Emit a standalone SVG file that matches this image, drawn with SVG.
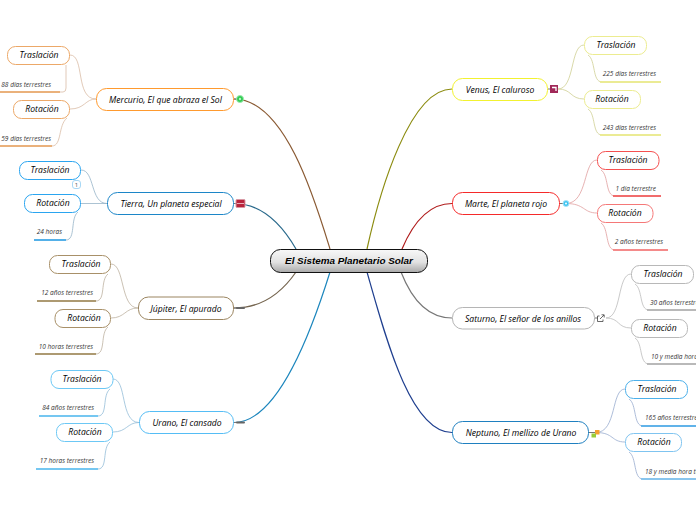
<svg xmlns="http://www.w3.org/2000/svg" width="696" height="520" viewBox="0 0 696 520">
<style>
text{font-family:"Open Sans","Noto Sans",sans-serif;font-style:italic;text-anchor:middle;fill:#000}
.m{font-size:8.600px;font-weight:500}
.s{font-size:8.600px;font-weight:500}
.n{font-size:6.500px;fill:#333;text-anchor:end}
.nl{font-size:6.500px;fill:#333;text-anchor:start}
rect{fill:#fff;stroke-width:1}
.c path{fill:none}
.a{stroke-width:1.200}
.b{stroke-width:.8;opacity:.65}
.u{stroke-width:1.400}
</style>
<defs>
<linearGradient id="g" x1="0" y1="0" x2="0" y2="1"><stop offset="0" stop-color="#f8f8f8"/><stop offset=".55" stop-color="#e2e2e2"/><stop offset="1" stop-color="#a8a8a8"/></linearGradient>
</defs>
<g id="connectors" class="c">
<path class="a" stroke="#8a5a33" d="M234 99C285 99 315 200 330 249"/>
<path class="a" stroke="#2a6a8c" d="M234 203.500C265 203.500 285 230 296 249"/>
<path class="a" stroke="#75654f" d="M234 308C265 308 285 288 296 272"/>
<path class="a" stroke="#1c86bd" d="M234 422.500C280 422.500 315 320 330 272"/>
<path class="a" stroke="#8c8c10" d="M452 89C410 89 380 190 367 249"/>
<path class="a" stroke="#b01c1c" d="M452 203.500C425 203.500 410 230 402 249"/>
<path class="a" stroke="#777" d="M452 318C425 318 410 295 401 272"/>
<path class="a" stroke="#1f3f8f" d="M452 432.500C410 432.500 385 335 367 272"/>
<g stroke="#c89a78" class="b"><path d="M96 99C75 99 85 55 70 55"/><path d="M96 99C85 99 85 109 70 109"/><path d="M0 92H63Q66 92 66 88V65"/><path d="M0 146H52C62 146 58 125 67 118"/></g>
<path class="u" stroke="#e8a05c" d="M0 92H60M0 146H52"/>
<g stroke="#5f8dac" class="b"><path d="M107 203.500C90 203.500 95 170 81 170"/><path d="M107 203.500H81"/><path d="M34 240H66C76 240 70 218 78 212"/></g>
<path class="u" stroke="#1e9be8" d="M34 240H66"/>
<g stroke="#9c8a70" class="b"><path d="M138 308C120 308 125 264 111 264"/><path d="M138 308C125 308 125 318 111 318"/><path d="M37 301H96C106 301 100 280 108 274"/><path d="M35 354H96C106 354 100 333 108 327"/></g>
<path class="u" stroke="#9b8350" d="M37 301H96M35 354H96"/>
<g stroke="#5d9cc5" class="b"><path d="M139 422.500C120 422.500 127 379 113 379"/><path d="M139 422.500C127 422.500 127 432 113 432"/><path d="M39 416H98C108 416 102 395 110 389"/><path d="M36 469H98C108 469 102 448 110 442"/></g>
<path class="u" stroke="#55bdf2" d="M39 416H98M36 469H98"/>
<g stroke="#b8b85c" class="b"><path d="M558 89C575 89 570 45 584 45"/><path d="M558 89C572 89 570 99 584 99"/><path d="M588 55C596 60 592 82 602 82H661"/><path d="M588 109C596 114 592 135 602 135H661"/></g>
<path class="u" stroke="#eaea80" d="M600 82H661M600 135H661"/>
<g stroke="#d26d6d" class="b"><path d="M566 203.500C588 203.500 583 160 597 160"/><path d="M566 203.500C585 203.500 583 213 597 213"/><path d="M601 170C609 175 605 196 615 196H661"/><path d="M601 223C609 228 605 250 615 250H668"/></g>
<path class="u" stroke="#f04848" d="M613 196H661"/><path class="u" stroke="#f57070" d="M613 250H668"/>
<g stroke="#999" class="b"><path d="M606 318C622 318 617 274 631 274"/><path d="M606 318C620 318 617 328 631 328"/><path d="M635 284C643 289 639 310 649 310H696"/><path d="M635 338C643 343 639 364 649 364H696"/></g>
<path class="u" stroke="#aaa" d="M647 310H696M647 364H696"/>
<g stroke="#6382b8" class="b"><path d="M596 432.500C617 432.500 611 389 625 389"/><path d="M596 432.500C614 432.500 611 442 625 442"/><path d="M629 399C637 404 633 426 643 426H696"/><path d="M629 452C637 457 633 479 643 479H696"/></g>
<path class="u" stroke="#3aa5e8" d="M641 426H696"/><path class="u" stroke="#6fbdee" d="M641 479H696"/>
<path stroke="#777" stroke-width="1" d="M234 99H238M234 203.500H236M234 308H238M234 422.500H238M548 89H551M560 203.500H563M595 318H598M589 432.500H596"/>
</g>
<g id="central"><rect x="270.500" y="249.500" width="157" height="23" rx="10" stroke="#111" style="fill:url(#g)"/><text x="349" y="264" style="font-family:'Liberation Sans',Arial,sans-serif;font-size:9.900px;font-weight:700">El Sistema Planetario Solar</text></g>
<g id="mercurio"><rect x="96.500" y="88.500" width="137" height="22" rx="10" stroke="#ff9a2e"/><text class="m" x="165.500" y="102.500">Mercurio, El que abraza el Sol</text>
<circle cx="240" cy="99" r="3.500" fill="#2ecc50" stroke="#9fe8b0"/><circle cx="240" cy="99" r="1.200" fill="#b5f0c5"/></g>
<g id="m1"><rect x="7.500" y="46.500" width="62" height="18" rx="8" stroke="#eca868"/><text class="s" x="39" y="58">Traslación</text></g>
<g id="m1n"><text class="n" x="51" y="86.500">88 días terrestres</text></g>
<g id="m2"><rect x="13.500" y="100.500" width="56" height="18" rx="8" stroke="#eca868"/><text class="s" x="42" y="112">Rotación</text></g>
<g id="m2n"><text class="n" x="51" y="140.500">59 días terrestres</text></g>
<g id="tierra"><rect x="107.500" y="192.500" width="126" height="22" rx="10" stroke="#1c86c8"/><text class="m" x="171" y="207">Tierra, Un planeta especial</text>
<rect x="236" y="199.500" width="9" height="8" rx="1" style="fill:#b8243c;stroke:#d89aa5"/><path d="M237 203.500H244" stroke="#e8b0ba" stroke-width="1"/></g>
<g id="t1"><rect x="19.500" y="161.500" width="61" height="18" rx="8" stroke="#2aa5f0"/><text class="s" x="50" y="173">Traslación</text>
<rect x="72.500" y="180.500" width="8" height="8" rx="2.500" stroke="#a8d8f5"/><text x="76.500" y="187" style="font-size:6px;font-style:normal;fill:#555">1</text></g>
<g id="t2"><rect x="24.500" y="194.500" width="56" height="18" rx="8" stroke="#2aa5f0"/><text class="s" x="53" y="206">Rotación</text></g>
<g id="t2n"><text class="n" x="62" y="234">24 horas</text></g>
<g id="jupiter"><rect x="138.500" y="297" width="95" height="22.500" rx="10" stroke="#9b8560"/><text class="m" x="186" y="311.500">Júpiter, El apurado</text>
<rect x="236" y="307" width="9" height="2" rx="1" style="fill:#666;stroke:none"/></g>
<g id="j1"><rect x="49.500" y="255.500" width="61" height="18" rx="8" stroke="#a89068"/><text class="s" x="81" y="267">Traslación</text></g>
<g id="j1n"><text class="n" x="93" y="295">12 años terrestres</text></g>
<g id="j2"><rect x="55" y="309.500" width="55.500" height="18" rx="8" stroke="#a89068"/><text class="s" x="84" y="321">Rotación</text></g>
<g id="j2n"><text class="n" x="93" y="349">10 horas terrestres</text></g>
<g id="urano"><rect x="139.500" y="411.500" width="94" height="22" rx="10" stroke="#55bdf5"/><text class="m" x="187" y="426">Urano, El cansado</text>
<rect x="236" y="421.500" width="9" height="2" rx="1" style="fill:#666;stroke:none"/></g>
<g id="u1"><rect x="51" y="370.500" width="62" height="18" rx="8" stroke="#6cc8f5"/><text class="s" x="82" y="382">Traslación</text></g>
<g id="u1n"><text class="n" x="94" y="410">84 años terrestres</text></g>
<g id="u2"><rect x="56.500" y="423.500" width="56" height="18" rx="8" stroke="#6cc8f5"/><text class="s" x="85" y="435">Rotación</text></g>
<g id="u2n"><text class="n" x="94" y="463">17 horas terrestres</text></g>
<g id="venus"><rect x="452.500" y="78.500" width="95" height="22" rx="10" stroke="#f2f230"/><text class="m" x="500" y="92.500">Venus, El caluroso</text>
<rect x="550" y="85" width="8" height="8" style="fill:#a02858;stroke:none"/><path d="M552 87.500H556V91" fill="none" stroke="#fff" stroke-width="1.300"/></g>
<g id="v1"><rect x="584.500" y="36.500" width="62" height="18" rx="8" stroke="#ecec90"/><text class="s" x="616" y="48">Traslación</text></g>
<g id="v1n"><text class="n" x="656" y="76">225 días terrestres</text></g>
<g id="v2"><rect x="584.500" y="90.500" width="56" height="18" rx="8" stroke="#ecec90"/><text class="s" x="612" y="102">Rotación</text></g>
<g id="v2n"><text class="n" x="656" y="130">243 días terrestres</text></g>
<g id="marte"><rect x="452.500" y="192.500" width="107" height="22" rx="10" stroke="#f52a2a"/><text class="m" x="506" y="207">Marte, El planeta rojo</text>
<circle cx="566" cy="203.500" r="3" fill="#3cc4f0" stroke="#a8e4f8"/><circle cx="566" cy="203.500" r="1.100" fill="#e8f8ff"/></g>
<g id="ma1"><rect x="597.500" y="151.500" width="61.500" height="18" rx="8" stroke="#f55050"/><text class="s" x="628" y="163">Traslación</text></g>
<g id="ma1n"><text class="n" x="656" y="191">1 día terrestre</text></g>
<g id="ma2"><rect x="597.500" y="204.500" width="55.500" height="18" rx="8" stroke="#f57878"/><text class="s" x="625" y="216">Rotación</text></g>
<g id="ma2n"><text class="n" x="663" y="244">2 años terrestres</text></g>
<g id="saturno"><rect x="452.500" y="307.500" width="142" height="21.500" rx="10" stroke="#b5b5b5"/><text class="m" x="523" y="321.500">Saturno, El señor de los anillos</text>
<path d="M599.500 316H597.500V321.500H603V319.500" fill="none" stroke="#444" stroke-width=".8"/><path d="M600 319L604 315M601.500 314.800H604.200V317.500" fill="none" stroke="#444" stroke-width=".8"/></g>
<g id="s1"><rect x="631.500" y="265.500" width="62" height="18" rx="8" stroke="#b8b8b8"/><text class="s" x="663" y="277">Traslación</text></g>
<g id="s1n"><text class="nl" x="650" y="304.500">30 años terrestres</text></g>
<g id="s2"><rect x="631.500" y="319.500" width="56" height="18" rx="8" stroke="#b8b8b8"/><text class="s" x="660" y="331">Rotación</text></g>
<g id="s2n"><text class="nl" x="651" y="358.500">10 y media horas terrestres</text></g>
<g id="neptuno"><rect x="452.500" y="421.500" width="136" height="22" rx="10" stroke="#1f80c0"/><text class="m" x="521" y="436">Neptuno, El mellizo de Urano</text>
<rect x="595" y="430" width="4.500" height="4.500" style="fill:#f5a030;stroke:none"/><rect x="591.500" y="433.500" width="4.500" height="4" style="fill:#98cc38;stroke:none"/></g>
<g id="n1"><rect x="625.500" y="380.500" width="62" height="18" rx="8" stroke="#4db0ea"/><text class="s" x="657" y="392">Traslación</text></g>
<g id="n1n"><text class="nl" x="645" y="419.500">165 años terrestres</text></g>
<g id="n2"><rect x="625.500" y="433.500" width="56" height="18" rx="8" stroke="#7fc4f0"/><text class="s" x="654" y="445">Rotación</text></g>
<g id="n2n"><text class="nl" x="645" y="473.500">18 y media hora terrestre</text></g>
</svg>
